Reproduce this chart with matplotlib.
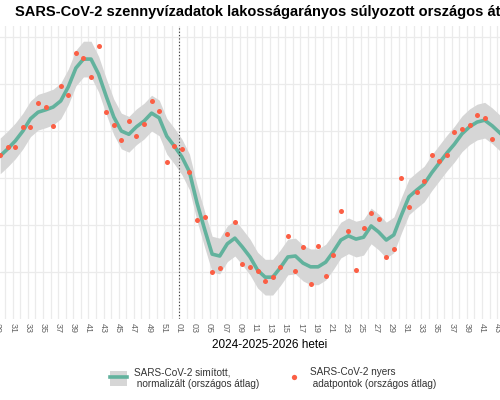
import matplotlib
matplotlib.use("Agg")
import matplotlib.pyplot as plt
from matplotlib.patches import Patch
from matplotlib.lines import Line2D
import numpy as np

plt.rcParams['font.family'] = ['Liberation Sans', 'DejaVu Sans']

# week index 0 = 2024 week 31; ticks run 2024 w29 .. 2026 w02
week_labels = [f"{w:02d}" for w in range(29, 53)] + [f"{w:02d}" for w in range(1, 53)] + ["01", "02"]
first_week = -2

# raw points (országos átlag), index relative to 2024 w31
point_weeks = list(range(-2, 64))
point_vals = [3.49, 3.65, 3.65, 4.08, 4.08, 4.60, 4.51, 4.11, 4.96, 4.77,
              5.66, 5.56, 5.15, 5.81, 4.40, 4.13, 3.81, 4.22, 3.89, 4.15,
              4.64, 4.43, 3.33, 3.69, 3.62, 3.13, 2.11, 2.17, 0.99, 1.09,
              1.80, 2.07, 1.17, 1.11, 1.03, 0.81, 0.89, 1.10, 1.77, 1.03,
              1.53, 0.74, 1.56, 0.91, 1.37, 2.30, 1.87, 1.05, 1.93, 2.26,
              2.12, 1.31, 1.48, 2.99, 2.39, 2.70, 2.94, 3.48, 3.36, 3.49,
              3.98, 4.04, 4.13, 4.35, 4.28, 3.84]

# smoothed curve
smooth_weeks = list(range(-2, 65))
smooth_vals = [3.47, 3.62, 3.79, 4.00, 4.26, 4.40, 4.45, 4.51, 4.64, 4.94,
               5.34, 5.53, 5.53, 5.21, 4.74, 4.30, 4.00, 3.93, 4.09, 4.21,
               4.38, 4.28, 3.89, 3.68, 3.45, 3.13, 2.47, 1.91, 1.38, 1.34,
               1.60, 1.72, 1.53, 1.32, 1.04, 0.89, 0.89, 1.09, 1.32, 1.34,
               1.19, 1.11, 1.11, 1.21, 1.43, 1.68, 1.77, 1.70, 1.74, 1.98,
               1.85, 1.68, 1.79, 2.21, 2.60, 2.74, 2.87, 3.11, 3.32, 3.53,
               3.72, 3.94, 4.09, 4.19, 4.23, 4.11, 3.96]
band_half = 0.38

year_start_week = 22  # 2025 w01

teal = '#62b29d'
red = '#fb5f45'
band = '#d6d6d6'

fig = plt.figure(figsize=(5, 4), dpi=100)
ax = fig.add_axes([-0.1, 0.2025, 1.2, 0.7325])

offset = 0.35
xs = np.array(smooth_weeks) + offset
sv = np.array(smooth_vals)
ax.fill_between(xs, sv - band_half, sv + band_half, color=band, lw=0, zorder=2)
ax.plot(xs, sv, color=teal, lw=2.6, zorder=3, solid_joinstyle='round')
ax.scatter(np.array(point_weeks) + offset, point_vals, s=13, color=red, lw=0, zorder=4)
ax.axvline(year_start_week, color='#333333', lw=0.8, ls=(0, (1, 2)), zorder=5)

ticks = np.arange(first_week, first_week + len(week_labels))
ax.set_xticks(ticks)
ax.set_xticklabels([lab if i % 2 == 0 else '' for i, lab in enumerate(week_labels)],
                   rotation=-90, fontsize=6.5, color='#666666')
ax.set_yticks([1, 2, 3, 4, 5, 6])
ax.set_yticklabels([])
ax.tick_params(length=0, pad=3)
ax.grid(True, color='#ebebeb', lw=0.9)
ax.set_axisbelow(True)
for s in ax.spines.values():
    s.set_visible(False)
ax.set_xlim(-8.28, 70.98)
ax.set_ylim(0, 6.234)

fig.text(0.54, 1 - 345 / 400, '2024-2025-2026 hetei', ha='center', va='center', fontsize=8.5)
fig.text(15 / 500, 1 - 12 / 400,
         'SARS-CoV-2 szennyvízadatok lakosságarányos súlyozott országos átlaga',
         ha='left', va='center', fontsize=10.5, fontweight='bold')

h1 = (Patch(facecolor=band, edgecolor='none'), Line2D([], [], color=teal, lw=2.6))
h2 = Line2D([], [], marker='o', ls='', color=red, markersize=3.8, markeredgewidth=0)
fig.legend([h1, h2],
           ['SARS-CoV-2 simított,\n normalizált (országos átlag)',
            'SARS-CoV-2 nyers\n adatpontok (országos átlag)'],
           loc='center left', bbox_to_anchor=(106 / 500, 1 - 378 / 400), ncol=2, frameon=False,
           borderaxespad=0, fontsize=7.2, handlelength=1.65, handleheight=1.9, handletextpad=0.8,
           columnspacing=2.6, labelcolor='#333333')

fig.savefig('out.png', dpi=100)
